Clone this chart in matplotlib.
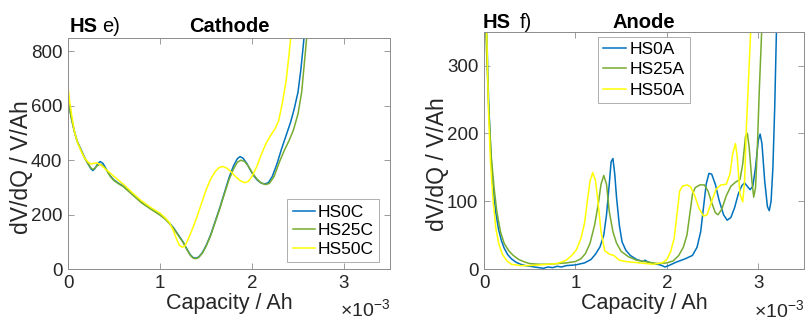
import matplotlib
matplotlib.use("Agg")
import matplotlib.pyplot as plt
import numpy as np
from matplotlib.ticker import FuncFormatter, FixedLocator

plt.rcParams['font.family'] = ['Liberation Sans', 'DejaVu Sans']
plt.rcParams['mathtext.fontset'] = 'custom'
plt.rcParams['mathtext.rm'] = 'Liberation Sans'
plt.rcParams['mathtext.it'] = 'Liberation Sans'

# ---------------- data (capacity in 1e-3 Ah, dV/dQ in V/Ah) ----------------
cath_labels = ["HS0C", "HS25C", "HS50C"]
cath_cap_0 = [0, 0.02, 0.04, 0.07, 0.1, 0.14, 0.18, 0.22, 0.25, 0.27, 0.29, 0.32, 0.35, 0.38, 0.42, 0.46,
              0.5, 0.55, 0.6, 0.65, 0.7, 0.8, 0.9, 1.0, 1.05, 1.1, 1.15, 1.2, 1.25, 1.29, 1.33, 1.36,
              1.39, 1.42, 1.46, 1.5, 1.55, 1.6, 1.65, 1.7, 1.75, 1.8, 1.84, 1.87, 1.9, 1.94, 1.98,
              2.02, 2.06, 2.1, 2.14, 2.18, 2.22, 2.27, 2.32, 2.37, 2.42, 2.46, 2.5, 2.53, 2.56, 2.57]
cath_val_0 = [630, 585, 550, 505, 470, 440, 410, 385, 368, 362, 368, 385, 395, 388, 365, 342,
              327, 315, 305, 290, 275, 245, 222, 200, 187, 170, 150, 125, 100, 75, 52, 42,
              40, 44, 60, 85, 125, 175, 225, 280, 335, 380, 405, 413, 408, 390, 365,
              342, 326, 316, 312, 318, 340, 385, 440, 490, 540, 590, 650, 730, 830, 870]
cath_cap_25 = [0, 0.02, 0.04, 0.07, 0.1, 0.14, 0.18, 0.22, 0.25, 0.27, 0.29, 0.32, 0.35, 0.38, 0.42, 0.46,
               0.5, 0.55, 0.6, 0.65, 0.7, 0.8, 0.9, 1.0, 1.05, 1.1, 1.15, 1.2, 1.25, 1.29, 1.33, 1.36,
               1.39, 1.42, 1.46, 1.5, 1.55, 1.6, 1.65, 1.7, 1.75, 1.8, 1.84, 1.88, 1.92, 1.96, 2.0,
               2.05, 2.1, 2.15, 2.19, 2.24, 2.3, 2.35, 2.4, 2.45, 2.5, 2.54, 2.57, 2.6]
cath_val_25 = [625, 582, 548, 503, 468, 438, 408, 386, 371, 366, 370, 380, 385, 380, 362, 340,
               325, 313, 303, 288, 273, 243, 220, 198, 185, 168, 148, 123, 98, 73, 50, 40,
               38, 42, 58, 83, 122, 172, 222, 276, 328, 368, 392, 400, 395, 378, 355,
               332, 316, 310, 315, 340, 395, 435, 470, 510, 570, 650, 760, 870]
cath_cap_50 = [0, 0.02, 0.04, 0.07, 0.1, 0.14, 0.18, 0.22, 0.25, 0.28, 0.31, 0.35, 0.4, 0.45, 0.5,
               0.6, 0.7, 0.8, 0.9, 1.0, 1.05, 1.1, 1.14, 1.18, 1.21, 1.24, 1.27, 1.3, 1.35, 1.4,
               1.45, 1.5, 1.55, 1.6, 1.64, 1.68, 1.72, 1.77, 1.82, 1.87, 1.92, 1.96, 2.0, 2.05,
               2.1, 2.15, 2.2, 2.25, 2.29, 2.33, 2.37, 2.4, 2.43]
cath_val_50 = [670, 610, 565, 505, 468, 435, 408, 392, 386, 388, 390, 384, 370, 355, 340,
               312, 280, 250, 226, 205, 190, 172, 145, 110, 88, 80, 84, 105, 145, 190,
               240, 290, 330, 358, 372, 377, 372, 358, 340, 325, 317, 322, 340, 375,
               420, 460, 490, 515, 545, 610, 690, 780, 880]

anod_labels = ["HS0A", "HS25A", "HS50A"]
anod_cap_0 = [0.03, 0.05, 0.07, 0.09, 0.11, 0.13, 0.16, 0.19, 0.22, 0.26, 0.3, 0.35, 0.4, 0.45, 0.5,
              0.55, 0.6, 0.65, 0.7, 0.75, 0.8, 0.85, 0.9, 1.0, 1.1, 1.17, 1.22, 1.27, 1.31, 1.34,
              1.37, 1.39, 1.41, 1.43, 1.45, 1.48, 1.51, 1.55, 1.6, 1.67, 1.74, 1.76, 1.8, 1.85,
              1.93, 1.98, 2.02, 2.1, 2.2, 2.28, 2.33, 2.37, 2.4, 2.43, 2.46, 2.49, 2.53, 2.57,
              2.62, 2.66, 2.7, 2.74, 2.78, 2.82, 2.85, 2.88, 2.91, 2.94, 2.97, 3.0, 3.02, 3.04,
              3.07, 3.1, 3.12, 3.14, 3.16, 3.18, 3.2]
anod_val_0 = [350, 250, 185, 135, 105, 82, 58, 42, 31, 21, 15, 10, 7, 5, 4,
              3, 2, 1, 3, 2, 4, 3, 5, 6, 9, 14, 22, 33, 50, 80,
              125, 158, 163, 140, 105, 65, 40, 28, 20, 14, 11, 13, 10, 8,
              6, 3, 5, 10, 15, 20, 32, 55, 90, 125, 141, 140, 125, 102,
              80, 72, 76, 90, 110, 123, 127, 122, 117, 122, 150, 190, 199, 185,
              130, 92, 86, 100, 150, 240, 360]
anod_cap_25 = [0.02, 0.05, 0.08, 0.11, 0.14, 0.18, 0.22, 0.27, 0.32, 0.38, 0.45, 0.5, 0.6, 0.7, 0.8,
               0.9, 1.0, 1.06, 1.11, 1.16, 1.21, 1.25, 1.28, 1.31, 1.34, 1.37, 1.41, 1.45, 1.5,
               1.58, 1.67, 1.8, 1.9, 2.0, 2.07, 2.13, 2.18, 2.22, 2.25, 2.28, 2.31, 2.36, 2.41,
               2.45, 2.49, 2.53, 2.56, 2.6, 2.65, 2.7, 2.75, 2.8, 2.83, 2.86, 2.88, 2.9, 2.93,
               2.95, 2.97, 2.99, 3.01, 3.04]
anod_val_25 = [350, 240, 165, 120, 85, 55, 38, 27, 20, 14, 10, 8, 7, 7, 8,
               9, 11, 15, 23, 38, 65, 96, 125, 138, 125, 85, 55, 38, 26,
               18, 13, 10, 8, 9, 12, 20, 32, 50, 80, 110, 120, 124, 124,
               115, 98, 83, 80, 88, 108, 122, 128, 132, 155, 195, 200, 180, 130,
               106, 120, 180, 260, 360]
anod_cap_50 = [0.03, 0.05, 0.07, 0.1, 0.13, 0.16, 0.2, 0.25, 0.3, 0.4, 0.5, 0.6, 0.7, 0.8, 0.9,
               0.96, 1.01, 1.06, 1.1, 1.13, 1.16, 1.19, 1.22, 1.25, 1.28, 1.32, 1.37, 1.42, 1.48,
               1.55, 1.7, 1.85, 1.95, 2.0, 2.04, 2.08, 2.11, 2.14, 2.17, 2.22, 2.26, 2.3, 2.35,
               2.4, 2.44, 2.49, 2.54, 2.59, 2.65, 2.69, 2.72, 2.75, 2.77, 2.8, 2.83, 2.85, 2.87,
               2.9, 2.92]
anod_val_50 = [350, 230, 160, 100, 60, 38, 22, 12, 7, 5, 5, 6, 7, 8, 13,
               20, 28, 45, 68, 100, 130, 142, 130, 95, 55, 27, 22, 20, 13,
               11, 9, 7, 9, 14, 25, 45, 80, 115, 122, 124, 121, 110, 90,
               78, 80, 100, 118, 124, 125, 140, 170, 185, 165, 110, 99, 130, 210,
               300, 360]

colors = ["#0072BD", "#77AC30", "#FFFF00"]
cap_scale = 1e-3

W, H = 806, 323
fig = plt.figure(figsize=(W / 100, H / 100), dpi=100)

def px(x, y):
    return x / W, 1 - y / H

tick_fmt = FuncFormatter(lambda v, p: f"{v / cap_scale:g}")
axcol = "#8c8c8c"
txtcol = "#262626"

def style(ax, ymax, yticks):
    ax.set_xlim(0, 3.5e-3)
    ax.set_ylim(0, ymax)
    ax.xaxis.set_major_locator(FixedLocator([0, 1e-3, 2e-3, 3e-3]))
    ax.xaxis.set_major_formatter(tick_fmt)
    ax.set_yticks(yticks)
    ax.tick_params(direction='in', length=4, width=0.6, top=True, right=True,
                   labelsize=13.5, colors=axcol, labelcolor=txtcol, pad=4)
    for s in ax.spines.values():
        s.set_color(axcol)
        s.set_linewidth(0.7)
    ax.set_xlabel("Capacity / Ah", fontsize=15.5, color=txtcol, labelpad=1)
    ax.set_ylabel("dV/dQ / V/Ah", fontsize=16.5, color=txtcol)
    ax.text(1.0, -0.175, "×10$^{-3}$", transform=ax.transAxes, ha='right', va='center',
            fontsize=14, color=txtcol)

# ---------------- Cathode ----------------
ax1 = fig.add_axes([68 / W, 54 / H, 322 / W, 231.3 / H])
for cap, val, c, lab in zip([cath_cap_0, cath_cap_25, cath_cap_50],
                            [cath_val_0, cath_val_25, cath_val_50], colors, cath_labels):
    ax1.plot(np.array(cap) * cap_scale, val, color=c, lw=1.1, label=lab)
style(ax1, 850, [0, 200, 400, 600, 800])
ax1.yaxis.set_label_coords(-0.11, 0.44)
leg1 = ax1.legend(loc='lower right', bbox_to_anchor=(0.966, 0.03), borderaxespad=0,
                  fontsize=12.5, frameon=True, fancybox=False, handlelength=1.3,
                  handletextpad=0.15, labelspacing=0.2, borderpad=0.3)
leg1.get_frame().set_edgecolor("#9a9a9a")
leg1.get_frame().set_linewidth(0.7)

# ---------------- Anode ----------------
ax2 = fig.add_axes([484 / W, 54 / H, 320 / W, 237.3 / H])
for cap, val, c, lab in zip([anod_cap_0, anod_cap_25, anod_cap_50],
                            [anod_val_0, anod_val_25, anod_val_50], colors, anod_labels):
    ax2.plot(np.array(cap) * cap_scale, val, color=c, lw=1.1, label=lab)
style(ax2, 350, [0, 100, 200, 300])
ax2.yaxis.set_label_coords(-0.11, 0.44)
leg2 = ax2.legend(loc='upper center', bbox_to_anchor=(0.5, 0.979), borderaxespad=0,
                  fontsize=12.5, frameon=True, fancybox=False, handlelength=1.3,
                  handletextpad=0.2, labelspacing=0.3, borderpad=0.3)
leg2.get_frame().set_edgecolor("#9a9a9a")
leg2.get_frame().set_linewidth(0.7)

# ---------------- headers ----------------
fig.text(*px(70, 32.5), "HS", fontsize=14.5, fontweight='bold', va='baseline', ha='left')
fig.text(*px(102, 32.5), "e)", fontsize=14.5, va='baseline', ha='left')
fig.text(*px(229, 32.5), "Cathode", fontsize=14.5, fontweight='bold', va='baseline', ha='center')
fig.text(*px(483, 28.5), "HS", fontsize=14.5, fontweight='bold', va='baseline', ha='left')
fig.text(*px(520, 28.5), "f)", fontsize=14.5, va='baseline', ha='left')
fig.text(*px(644, 28.5), "Anode", fontsize=14.5, fontweight='bold', va='baseline', ha='center')

fig.savefig("out.png", dpi=100)
